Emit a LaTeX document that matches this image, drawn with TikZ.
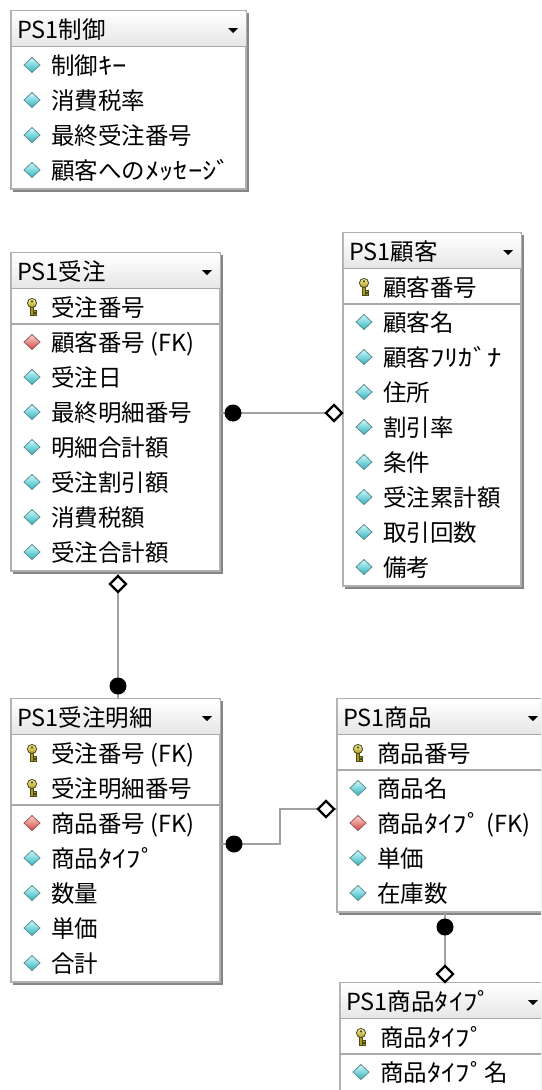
\documentclass[tikz,border=0pt]{standalone}
\usepackage{fontspec}
\setmainfont{Noto Sans CJK JP}
\newfontfamily\hwkana[FakeStretch=1.22]{Noto Sans CJK JP}
\newcommand\hk[1]{{\hwkana #1}}
\usetikzlibrary{shapes.geometric}
\definecolor{framec}{HTML}{B0B0B0}
\definecolor{shadowc}{HTML}{858585}
\definecolor{sepc}{HTML}{A8A8A8}
\definecolor{hdrc}{HTML}{E6E6E6}
\definecolor{relc}{HTML}{A0A0A0}
\definecolor{cyanA}{HTML}{D0FAFC}
\definecolor{cyanB}{HTML}{2EB2BC}
\definecolor{cyanE}{HTML}{5E8E92}
\definecolor{redA}{HTML}{FBD6D0}
\definecolor{redB}{HTML}{D0483E}
\definecolor{redE}{HTML}{965A58}
\definecolor{keyA}{HTML}{F6F0A0}
\definecolor{keyB}{HTML}{B09A1E}
\definecolor{keyE}{HTML}{4A4A1C}
\tikzset{
  tablebox/.style={rectangle, draw=framec, line width=1.5pt, fill=white, inner sep=0pt, outer sep=0pt},
  sepline/.style={draw=sepc, line width=1.5pt},
  titletxt/.style={anchor=base west, inner sep=0pt, font=\fontsize{23.5}{27}\selectfont},
  rowtxt/.style={anchor=base west, inner sep=0pt, font=\fontsize{23.5}{27}\selectfont},
  relline/.style={draw=relc, line width=1.8pt},
  onedot/.style={circle, fill=black, inner sep=0pt, minimum size=17pt},
  manydia/.style={diamond, draw=black, fill=white, line width=2.2pt, inner sep=0pt, minimum width=17pt, minimum height=17pt}
}
\newcommand\ericona[2]{\path[draw=cyanE, line width=0.8pt, top color=cyanA, bottom color=cyanB] (#1-8,#2) -- (#1,#2-7.5) -- (#1+8,#2) -- (#1,#2+7.5) -- cycle;}
\newcommand\ericonf[2]{\path[draw=redE, line width=0.8pt, top color=redA, bottom color=redB] (#1-8,#2) -- (#1,#2-7.5) -- (#1+8,#2) -- (#1,#2+7.5) -- cycle;}
\newcommand\ericonk[2]{%
  \begin{scope}[shift={(#1,#2)}]
    \path[draw=keyE, line width=0.8pt, fill=keyB] (-1.8,-1) rectangle (1.8,8.5);
    \path[draw=keyE, line width=0.8pt, fill=keyB] (1.8,3.2) -- (4.2,3.2) -- (4.2,5.2) -- (1.8,5.2);
    \path[draw=keyE, line width=0.8pt, fill=keyB] (1.8,6.2) -- (4.2,6.2) -- (4.2,8.2) -- (1.8,8.2);
    \path[draw=keyE, line width=0.8pt, top color=keyA, bottom color=keyB] (0,-4) circle (4.6);
    \fill[keyE] (0,-5.6) circle (1.3);
  \end{scope}}
% name, left, top, right, nkeys, title, rows, nrows
\newcommand\ertable[8]{%
  \pgfmathsetmacro\erbot{#3+38+35*#8}%
  \fill[shadowc] (#2+2,#3+2) rectangle (#4+2.5,\erbot+2.5);
  \node[tablebox, anchor=north west, minimum width={#4-#2}, minimum height={\erbot-#3}] (#1) at (#2,#3) {};
  \shade[top color=white, bottom color=hdrc] (#2+0.75,#3+0.75) rectangle (#4-0.75,#3+35);
  \draw[sepline] (#2,#3+35.5) -- (#4,#3+35.5);
  \node[titletxt] (#1-title) at (#2+6,#3+27.5) {#6};
  \fill (#4-18,#3+17) -- (#4-8,#3+17) -- (#4-13,#3+22) -- cycle;
  \ifnum#5>0 \draw[sepline] (#2,#3+36+35*#5) -- (#4,#3+36+35*#5);\fi
  \foreach \rk/\rt [count=\ri] in {#7} {
    \pgfmathsetmacro\yy{#3+54+35*(\ri-1)}
    \csname ericon\rk\endcsname{#2+21}{\yy}
    \node[rowtxt] (#1-\ri) at (#2+40,\yy+9) {\rt};
  }
}
\begin{document}
\begin{tikzpicture}[x=1pt,y=-1pt]
\useasboundingbox (0,0) rectangle (541,1090);
\fill[white] (0,0) rectangle (541,1090);
\clip (0,0) rectangle (541,1090);

\ertable{seigyo}{11}{11}{246}{0}{PS1制御}{a/制御\hk{ｷｰ}, a/消費税率, a/最終受注番号, a/顧客への\hk{ﾒｯｾｰｼﾞ}}{4}
\ertable{juchu}{11}{253}{220}{1}{PS1受注}{k/受注番号, f/顧客番号 (FK), a/受注日, a/最終明細番号, a/明細合計額, a/受注割引額, a/消費税額, a/受注合計額}{8}
\ertable{kokyaku}{343}{233}{521}{1}{PS1顧客}{k/顧客番号, a/顧客名, a/顧客\hk{ﾌﾘｶﾞﾅ}, a/住所, a/割引率, a/条件, a/受注累計額, a/取引回数, a/備考}{9}
\ertable{meisai}{11}{699}{220}{2}{PS1受注明細}{k/受注番号 (FK), k/受注明細番号, f/商品番号 (FK), a/商品\hk{ﾀｲﾌﾟ}, a/数量, a/単価, a/合計}{7}
\ertable{shohin}{337}{699}{546}{1}{PS1商品}{k/商品番号, a/商品名, f/商品\hk{ﾀｲﾌﾟ} (FK), a/単価, a/在庫数}{5}
\ertable{stype}{340}{983}{546}{1}{PS1商品\hk{ﾀｲﾌﾟ}}{k/商品\hk{ﾀｲﾌﾟ}, a/商品\hk{ﾀｲﾌﾟ}名}{2}

% connector levels
\coordinate (lvl1) at (0,413);
\coordinate (col2) at (118,0);
\coordinate (lvl3a) at (0,844);
\coordinate (lvl3b) at (0,809);
\coordinate (bend3) at (280,0);
\coordinate (col4) at (445,0);

% PS1受注 -- PS1顧客
\draw[relline] (juchu.east |- lvl1) -- (kokyaku.west |- lvl1);
\node[onedot] (r1one) at (233,413) {};
\node[manydia] (r1many) at (334,413) {};

% PS1受注 -- PS1受注明細
\draw[relline] (juchu.south -| col2) -- (meisai.north -| col2);
\node[manydia] (r2many) at (118,584) {};
\node[onedot] (r2one) at (118,686) {};

% PS1受注明細 -- PS1商品
\draw[relline] (meisai.east |- lvl3a) -| (bend3 |- lvl3b) -- (shohin.west |- lvl3b);
\node[onedot] (r3one) at (234,844) {};
\node[manydia] (r3many) at (326,809) {};

% PS1商品 -- PS1商品タイプ
\draw[relline] (shohin.south -| col4) -- (stype.north -| col4);
\node[onedot] (r4one) at (445,927) {};
\node[manydia] (r4many) at (445,974) {};
\end{tikzpicture}
\end{document}
